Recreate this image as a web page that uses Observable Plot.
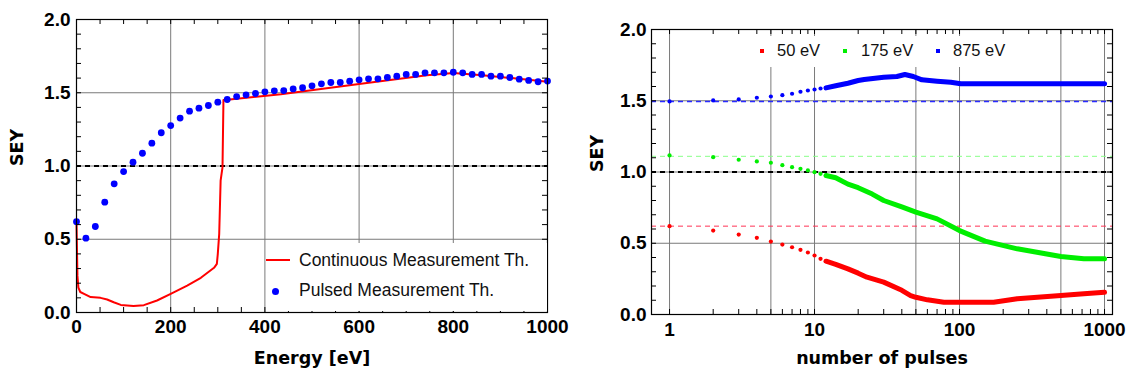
<!DOCTYPE html>
<html><head><meta charset="utf-8">
<script src="https://cdn.jsdelivr.net/npm/d3@7"></script>
<script src="https://cdn.jsdelivr.net/npm/@observablehq/plot@0.6"></script>
<style>
body{margin:0;background:#fff;}
#wrap{position:relative;width:1128px;height:376px;overflow:hidden;font-family:"Liberation Sans",Arial,sans-serif;}
#left{position:absolute;left:0;top:0;}
#right{position:absolute;left:564px;top:0;}
.leg{position:absolute;background:#fff;}
.leg .t{position:absolute;height:20px;line-height:20px;white-space:nowrap;color:#111;}
.leg .m{position:absolute;}
</style></head>
<body>
<div id="wrap"><div id="left"></div><div id="right"></div></div>
<script>
// ---------- Left panel data ----------
const energyCont = [0, 2, 4, 8, 16, 30, 51, 65, 79, 94, 121, 143, 171, 200, 235, 264, 292, 298, 300, 303, 306, 308, 310, 312, 315, 434, 600, 744, 800, 862, 924, 1000];
const seyCont    = [0.61, 0.25, 0.17, 0.14, 0.127, 0.105, 0.10, 0.089, 0.07, 0.052, 0.045, 0.05, 0.082, 0.127, 0.184, 0.237, 0.305, 0.332, 0.40, 0.537, 0.90, 0.947, 0.99, 1.45, 1.45, 1.49, 1.56, 1.62, 1.635, 1.62, 1.60, 1.575];
const energyPulsed = [0, 20, 40, 60, 80, 100, 120, 140, 160, 180, 200, 220, 240, 260, 280, 300, 320, 340, 360, 380, 400, 420, 440, 460, 480, 500, 520, 540, 560, 580, 600, 620, 640, 660, 680, 700, 720, 740, 760, 780, 800, 820, 840, 860, 880, 900, 920, 940, 960, 980, 1000];
const seyPulsed = [0.62, 0.507, 0.587, 0.753, 0.878, 0.962, 1.026, 1.087, 1.156, 1.227, 1.276, 1.327, 1.374, 1.395, 1.413, 1.436, 1.454, 1.474, 1.486, 1.495, 1.506, 1.513, 1.515, 1.526, 1.534, 1.547, 1.561, 1.570, 1.570, 1.579, 1.588, 1.595, 1.595, 1.604, 1.613, 1.625, 1.625, 1.636, 1.636, 1.636, 1.640, 1.636, 1.625, 1.625, 1.613, 1.613, 1.604, 1.593, 1.584, 1.575, 1.58];
const leftSeries = ["Continuous Measurement Th.", "Pulsed Measurement Th."];
const leftColors = ["#ff0000", "#0000ff"];
const energyTicks = [0, 200, 400, 600, 800, 1000];
const energyMinor = [50,100,150,200,250,300,350,400,450,500,550,600,650,700,750,800,850,900,950];
const energyGrid = [200, 400, 600, 800];

// ---------- Right panel data ----------
const pulsesSparse = [1, 2, 3, 4, 5, 6, 7, 8, 9, 10, 11, 12];
const sey50Sparse  = [0.62, 0.589, 0.561, 0.538, 0.512, 0.491, 0.472, 0.454, 0.435, 0.414, 0.391, 0.374];
const sey175Sparse = [1.116, 1.104, 1.086, 1.074, 1.065, 1.048, 1.034, 1.022, 1.011, 0.999, 0.987, 0.975];
const sey875Sparse = [1.495, 1.502, 1.509, 1.521, 1.530, 1.539, 1.549, 1.563, 1.572, 1.579, 1.586, 1.590];
const pulses50Dense  = [12, 14, 17, 20, 23, 30, 40, 46, 50, 60, 78, 100, 172, 250, 500, 720, 1000];
const sey50Dense     = [0.374, 0.352, 0.32, 0.29, 0.262, 0.227, 0.17, 0.133, 0.121, 0.103, 0.086, 0.086, 0.086, 0.110, 0.133, 0.145, 0.156];
const pulses175Dense = [12, 14, 17, 20, 25, 30, 40, 50, 70, 100, 150, 250, 500, 720, 1000];
const sey175Dense    = [0.975, 0.96, 0.915, 0.89, 0.845, 0.80, 0.755, 0.718, 0.671, 0.589, 0.515, 0.461, 0.407, 0.391, 0.391];
const pulses875Dense = [12, 14, 17, 20, 22, 30, 37, 42, 48, 55, 70, 87, 102, 200, 500, 1000];
const sey875Dense    = [1.590, 1.605, 1.623, 1.642, 1.649, 1.665, 1.670, 1.684, 1.670, 1.647, 1.637, 1.630, 1.619, 1.619, 1.619, 1.619];
const rightSeries = ["50 eV", "175 eV", "875 eV"];
const rightColors = ["#ff0000", "#00ee00", "#0000ff"];
const initialLevels = [0.62, 1.11, 1.495];
const initialColors = ["#ff3355", "#88ff88", "#2a2aff"];
const pulseTicks = [1, 5, 10, 50, 100, 500, 1000];
const pulseMinor = [1,2,3,4,5,6,7,8,9,10,20,30,40,50,60,70,80,90,100,200,300,400,500,600,700,800,900,1000];
const seyTicks = [0, 0.5, 1.0, 1.5, 2.0];
const seyMinor = [0.1,0.2,0.3,0.4,0.5,0.6,0.7,0.8,0.9,1.0,1.1,1.2,1.3,1.4,1.5,1.6,1.7,1.8,1.9];
const seyGrid = [0.5, 1.5];
const unityLevel = [1.0];

const gridColor = "#7a7a7a";
const tickLen = 5;
const tickFont = {fontFamily: "'Liberation Sans', Arial, sans-serif", fontSize: 19, fontWeight: "bold", fill: "#000"};
const titleFont = {fontFamily: "'DejaVu Sans', Verdana, sans-serif", fontSize: 17.5, fontWeight: "bold", fill: "#000"};

// inward frame ticks drawn as short rules (inset from the opposite side)
function frameTicks(xTicks, yTicks, fw, fh) {
  const s = {stroke: "#000", strokeWidth: 1};
  return [
    Plot.ruleX(xTicks, {...s, insetTop: fh - tickLen}),
    Plot.ruleX(xTicks, {...s, insetBottom: fh - tickLen}),
    Plot.ruleY(yTicks, {...s, insetRight: fw - tickLen}),
    Plot.ruleY(yTicks, {...s, insetLeft: fw - tickLen})
  ];
}

const contData = energyCont.map((e, i) => ({e, s: seyCont[i]}));
const pulsedData = energyPulsed.map((e, i) => ({e, s: seyPulsed[i]}));

const L = {width: 564, height: 376, ml: 76, mr: 17, mt: 19, mb: 64};
const left = Plot.plot({
  width: L.width, height: L.height,
  marginLeft: L.ml, marginRight: L.mr, marginTop: L.mt, marginBottom: L.mb,
  x: {domain: [0, 1000]},
  y: {domain: [0, 2]},
  style: {background: "transparent", overflow: "visible"},
  marks: [
    Plot.ruleX(energyGrid, {stroke: gridColor, strokeWidth: 1}),
    Plot.ruleY(seyGrid.concat(unityLevel), {stroke: gridColor, strokeWidth: 1}),
    Plot.ruleY(unityLevel, {stroke: "#000", strokeWidth: 2, strokeDasharray: "5,4"}),
    Plot.line(contData, {x: "e", y: "s", stroke: leftColors[0], strokeWidth: 2}),
    Plot.dot(pulsedData, {x: "e", y: "s", r: 3.4, fill: leftColors[1], stroke: "none"}),
    ...frameTicks(energyMinor, seyMinor, L.width - L.ml - L.mr, L.height - L.mt - L.mb),
    Plot.frame({stroke: "#000", strokeWidth: 1.2}),
    Plot.axisX({ticks: energyTicks, tickSize: 0, tickPadding: 7, tickFormat: d3.format("d"), label: null, ...tickFont}),
    Plot.axisY({ticks: seyTicks, tickSize: 0, tickPadding: 6, tickFormat: d3.format(".1f"), label: null, ...tickFont}),
    Plot.text(["Energy [eV]"], {frameAnchor: "bottom", dy: 51, ...titleFont}),
    Plot.text(["SEY"], {frameAnchor: "left", dx: -59, rotate: -90, ...titleFont})
  ]
});
document.getElementById("left").appendChild(left);

const sparse = rightSeries.map((name, k) => [sey50Sparse, sey175Sparse, sey875Sparse][k].map((s, i) => ({n: pulsesSparse[i], s, k}))).flat();
const dense = [
  pulses50Dense.map((n, i) => ({n, s: sey50Dense[i], k: 0})),
  pulses175Dense.map((n, i) => ({n, s: sey175Dense[i], k: 1})),
  pulses875Dense.map((n, i) => ({n, s: sey875Dense[i], k: 2}))
].flat();
const levels = initialLevels.map((v, k) => ({v, k}));

const R = {width: 564, height: 376, ml: 87, mr: 16, mt: 29, mb: 62};
const right = Plot.plot({
  width: R.width, height: R.height,
  marginLeft: R.ml, marginRight: R.mr, marginTop: R.mt, marginBottom: R.mb,
  x: {type: "log", domain: [0.751, 1135]},
  y: {domain: [0, 2]},
  style: {background: "transparent", overflow: "visible"},
  marks: [
    Plot.ruleX(pulseTicks, {stroke: gridColor, strokeWidth: 1}),
    Plot.ruleY(seyGrid.concat(unityLevel), {stroke: gridColor, strokeWidth: 1}),
    Plot.ruleY(unityLevel, {stroke: "#000", strokeWidth: 2, strokeDasharray: "5,4"}),
    Plot.ruleY(levels, {y: "v", stroke: d => initialColors[d.k], strokeWidth: d => d.k === 2 ? 1.6 : 1, strokeDasharray: "5,4"}),
    Plot.line(dense, {x: "n", y: "s", z: "k", stroke: d => rightColors[d.k], strokeWidth: 5, strokeLinecap: "round", strokeLinejoin: "round"}),
    Plot.dot(sparse, {x: "n", y: "s", r: 2.1, fill: d => rightColors[d.k], stroke: "none"}),
    ...frameTicks(pulseMinor, seyMinor, R.width - R.ml - R.mr, R.height - R.mt - R.mb),
    Plot.frame({stroke: "#000", strokeWidth: 1.2}),
    Plot.axisX({ticks: pulseTicks, tickSize: 0, tickPadding: 8, tickFormat: d3.format("d"), label: null, ...tickFont}),
    Plot.axisY({ticks: seyTicks, tickSize: 0, tickPadding: 5, tickFormat: d3.format(".1f"), label: null, ...tickFont}),
    Plot.text(["number of pulses"], {frameAnchor: "bottom", dy: 49, ...titleFont}),
    Plot.text(["SEY"], {frameAnchor: "left", dx: -54, rotate: -90, ...titleFont})
  ]
});
document.getElementById("right").appendChild(right);

// ---------- Legends (HTML overlays) ----------
const wrap = document.getElementById("wrap");
function el(parent, cls, css, text) {
  const d = document.createElement("div");
  d.className = cls;
  Object.assign(d.style, css);
  if (text != null) d.textContent = text;
  parent.appendChild(d);
  return d;
}
// left legend
const legL = el(wrap, "leg", {left: "266px", top: "243px", width: "281px", height: "68px"});
el(legL, "m", {left: "0px", top: "16px", width: "24px", height: "2px", background: leftColors[0]});
el(legL, "t", {left: "33px", top: "7px", fontSize: "17.5px"}, leftSeries[0]);
el(legL, "m", {left: "6px", top: "44.5px", width: "7px", height: "7px", borderRadius: "50%", background: leftColors[1]});
el(legL, "t", {left: "33px", top: "37px", fontSize: "17.5px"}, leftSeries[1]);
// right legend (box starts at x=700; offsets relative to it)
const legR = el(wrap, "leg", {left: "700px", top: "36px", width: "340px", height: "31px"});
const markX = [60, 143, 236], textX = [77, 161, 253];
rightSeries.forEach((name, k) => {
  el(legR, "m", {left: markX[k] + "px", top: "13px", width: "3.5px", height: "3.5px", background: rightColors[k]});
  el(legR, "t", {left: textX[k] + "px", top: "4px", fontSize: "16.5px"}, name);
});
</script>
</body></html>
